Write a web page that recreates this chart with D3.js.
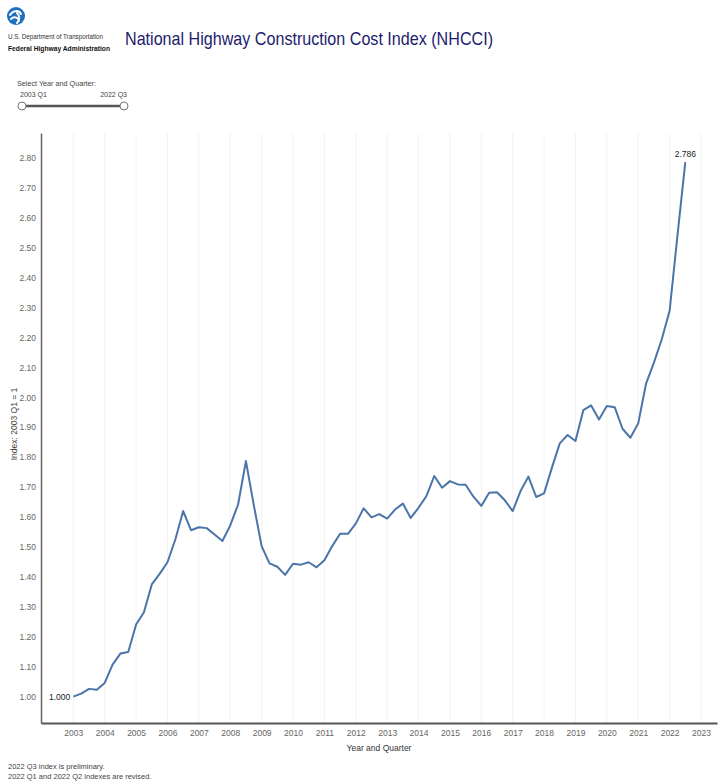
<!DOCTYPE html>
<html>
<head>
<meta charset="utf-8">
<script src="https://cdnjs.cloudflare.com/ajax/libs/d3/7.8.5/d3.min.js"></script>
<style>
  body { margin: 0; background: #fff; }
  text { font-family: "Liberation Sans Narrow", "Liberation Sans", Arial, sans-serif; }
  .tick text { fill: #666; font-size: 8.5px; }
</style>
</head>
<body>
<div id="chart"></div>
<script>
// quarterly NHCCI values, 2003 Q1 .. 2022 Q3
var years = d3.range(2003, 2023);
var quarters = ["Q1", "Q2", "Q3", "Q4"];
var indexValues = [
  1.000, 1.010, 1.026, 1.023,
  1.046, 1.107, 1.144, 1.149,
  1.241, 1.282, 1.375, 1.410,
  1.449, 1.525, 1.620, 1.556,
  1.566, 1.563, 1.542, 1.520,
  1.572, 1.642, 1.787, 1.640,
  1.503, 1.445, 1.434, 1.407,
  1.444, 1.441, 1.449, 1.432,
  1.456, 1.503, 1.544, 1.544,
  1.578, 1.629, 1.599, 1.610,
  1.595, 1.625, 1.645, 1.597,
  1.631, 1.670, 1.737, 1.698,
  1.720, 1.709, 1.708, 1.668,
  1.637, 1.681, 1.683, 1.656,
  1.620, 1.687, 1.735, 1.667,
  1.679, 1.765, 1.846, 1.874,
  1.854, 1.957, 1.973, 1.926,
  1.971, 1.967, 1.895, 1.865,
  1.913, 2.046, 2.116, 2.194,
  2.289, 2.540, 2.786
];
var xTickYears = d3.range(2003, 2024);
var yTickValues = d3.range(10, 29).map(d => d / 10);

var data = indexValues.map(function(v, i) {
  return { year: years[0] + Math.floor(i / 4), q: quarters[i % 4], t: years[0] + i / 4, value: v };
});

var svgWidth = 719, svgHeight = 782;

var svg = d3.select("#chart")
  .append("svg")
  .attr("width", svgWidth)
  .attr("height", svgHeight);

// header: logo
var logo = svg.append("g").attr("transform", "translate(16,16)");
logo.append("circle").attr("r", 9).attr("fill", "#1f6fc0");
logo.append("path")
  .attr("d", "M-6,-1 C-3,-6 3,-6 5,-2 M-5,3 C-2,0 2,1 3,5 M1,-3 C4,0 4,4 1,7")
  .attr("fill", "none").attr("stroke", "#fff").attr("stroke-width", 2).attr("stroke-linecap", "round");

svg.append("text").attr("x", 8).attr("y", 39)
  .attr("font-size", "7.5px").attr("fill", "#333")
  .attr("textLength", 95).attr("lengthAdjust", "spacingAndGlyphs")
  .text("U.S. Department of Transportation");
svg.append("text").attr("x", 8).attr("y", 51)
  .attr("font-size", "7.5px").attr("font-weight", "bold").attr("fill", "#111")
  .attr("textLength", 102).attr("lengthAdjust", "spacingAndGlyphs")
  .text("Federal Highway Administration");

svg.append("text").attr("x", 125).attr("y", 45)
  .attr("font-size", "19px").attr("fill", "#1c1c6e")
  .attr("textLength", 368).attr("lengthAdjust", "spacingAndGlyphs")
  .text("National Highway Construction Cost Index (NHCCI)");

// slider
svg.append("text").attr("x", 17).attr("y", 86)
  .attr("font-size", "7.5px").attr("fill", "#444")
  .attr("textLength", 79).attr("lengthAdjust", "spacingAndGlyphs")
  .text("Select Year and Quarter:");
svg.append("text").attr("x", 20).attr("y", 97)
  .attr("font-size", "7px").attr("fill", "#444").text(years[0] + " " + quarters[0]);
svg.append("text").attr("x", 127).attr("y", 97).attr("text-anchor", "end")
  .attr("font-size", "7px").attr("fill", "#444")
  .text(data[data.length - 1].year + " " + data[data.length - 1].q);
svg.append("line").attr("x1", 22).attr("x2", 124).attr("y1", 106).attr("y2", 106)
  .attr("stroke", "#555").attr("stroke-width", 2.5);
[22, 124].forEach(function(cx) {
  svg.append("circle").attr("cx", cx).attr("cy", 106).attr("r", 4)
    .attr("fill", "#fff").attr("stroke", "#777").attr("stroke-width", 1);
});

// scales
var xScale = d3.scaleLinear().domain([2001.97, 2023.51]).range([41, 717]);
var yScale = d3.scaleLinear().domain([0.912, 2.883]).range([723, 133]);

// vertical grid
svg.append("g").selectAll("line").data(xTickYears).enter()
  .append("line")
  .attr("x1", d => xScale(d)).attr("x2", d => xScale(d))
  .attr("y1", 133).attr("y2", 723)
  .attr("stroke", "#f3f3f3").attr("stroke-width", 1);

// axes
var leftAxis = d3.axisLeft(yScale).tickValues(yTickValues).tickSize(0).tickPadding(5)
  .tickFormat(d3.format(".2f"));
var bottomAxis = d3.axisBottom(xScale).tickValues(xTickYears).tickSize(0).tickPadding(7)
  .tickFormat(d3.format("d"));

var gy = svg.append("g").attr("transform", "translate(41,0)").call(leftAxis);
gy.select(".domain").attr("stroke", "#666").attr("stroke-width", 1.5);

var gx = svg.append("g").attr("transform", "translate(0,723)").call(bottomAxis);
gx.select(".domain").attr("stroke", "#555").attr("stroke-width", 2);

// line
var line = d3.line().x(d => xScale(d.t)).y(d => yScale(d.value));
svg.append("path").datum(data)
  .attr("d", line)
  .attr("fill", "none")
  .attr("stroke", "#4b75a8")
  .attr("stroke-width", 2)
  .attr("stroke-linejoin", "round");

// end labels
var first = data[0], last = data[data.length - 1];
svg.append("text")
  .attr("x", xScale(first.t) - 3).attr("y", yScale(first.value) + 3)
  .attr("text-anchor", "end").attr("font-size", "8.5px").attr("fill", "#222")
  .text(d3.format(".3f")(first.value));
svg.append("text")
  .attr("x", xScale(last.t)).attr("y", yScale(last.value) - 5)
  .attr("text-anchor", "middle").attr("font-size", "8.5px").attr("fill", "#222")
  .text(d3.format(".3f")(last.value));

// axis titles
svg.append("text")
  .attr("transform", "translate(17,424) rotate(-90)")
  .attr("text-anchor", "middle").attr("font-size", "8.5px").attr("fill", "#444")
  .text("Index: 2003 Q1 = 1");
svg.append("text")
  .attr("x", 379).attr("y", 751)
  .attr("text-anchor", "middle").attr("font-size", "8.5px").attr("fill", "#333")
  .text("Year and Quarter");

// footnotes
svg.append("text").attr("x", 8).attr("y", 769)
  .attr("font-size", "7.5px").attr("fill", "#444").text("2022 Q3 index is preliminary.");
svg.append("text").attr("x", 8).attr("y", 779)
  .attr("font-size", "7.5px").attr("fill", "#444").text("2022 Q1 and 2022 Q2 indexes are revised.");
</script>
</body>
</html>
